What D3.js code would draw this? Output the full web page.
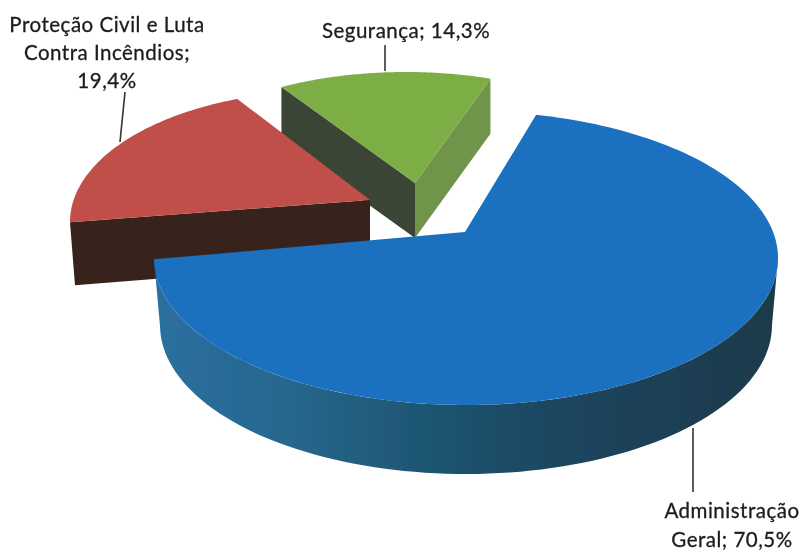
<!DOCTYPE html>
<html><head><meta charset="utf-8">
<style>html,body{margin:0;padding:0;background:#fff;overflow:hidden}svg{display:block}text{font-family:Lato,"Open Sans",sans-serif;fill:#1c1c1c;stroke:#1c1c1c;stroke-width:.3}</style>
<script src="https://cdn.jsdelivr.net/npm/d3@7"></script></head>
<body><svg id="c" width="802" height="551"></svg>
<script>
const categories = ["Administração Geral","Proteção Civil e Luta Contra Incêndios","Segurança"];
const values = [70.5,19.4,14.3];
const labelLines = [["Administração","Geral; 70,5%"],["Proteção Civil e Luta","Contra Incêndios;","19,4%"],["Segurança; 14,3%"]];

// projection of each exploded wedge (style / layout, not data)
const geom = [
 {apex:[465,232],c:[466,258],rx:312,ry:147,twist:3.75,stretch:1.053,depth:69,top:"#1a70c0"},
 {apex:[370,200],c:[325,222],rx:255,ry:131,twist:12.1,stretch:1.045,depth:62,top:"#c0504a",wall:"#38231f"},
 {apex:[415,183],c:[406,177],rx:241,ry:105,twist:3.7,stretch:1.045,depth:55,top:"#7cae45",wall:"#3b4435",wall2:"#6f9448"}
];
const labelPos = [
 {x:732,y:518,lh:29},{x:107,y:32,lh:28},{x:406,y:38,lh:0}
];
const leaders = [[[693,428],[693,492]],[[125,92],[120,142]],[[385,45],[385,71]]];

const svg = d3.select("#c");
const defs = svg.append("defs");
const f = defs.append("filter").attr("id","soft").attr("filterUnits","userSpaceOnUse").attr("x",0).attr("y",0).attr("width",802).attr("height",551);
f.append("feGaussianBlur").attr("stdDeviation",0.45);
const grad = defs.append("linearGradient").attr("id","blueWall").attr("gradientUnits","userSpaceOnUse")
  .attr("x1",155).attr("x2",775).attr("y1",0).attr("y2",0);
[[0,"#2a6fa0"],[0.2,"#27688f"],[0.45,"#1e5470"],[0.65,"#1d4560"],[1,"#1e3a4a"]]
  .forEach(s=>grad.append("stop").attr("offset",s[0]).attr("stop-color",s[1]));

const rad = Math.PI/180;
const pie = d3.pie().sort(null).value(d=>d).startAngle(15.7*rad).endAngle(15.7*rad+2*Math.PI);
const arcs = pie(values);
// angle on the wedge -> point on its projected rim
const rimOf = (g,a)=>{const m=(a.startAngle+a.endAngle)/2;
  return (th,dy=0,drx=0)=>{const p=m+(th-m)*g.stretch+g.twist*rad-Math.PI/2;
    return [g.c[0]+(g.rx-drx)*Math.cos(p), g.c[1]+dy+(g.ry+(dy?2:0))*Math.sin(p)];};};
const samples=(a,b,n=90)=>d3.range(n+1).map(i=>a+(b-a)*i/n);
const line=d3.line();
const g0 = svg.append("g").attr("filter","url(#soft)");

// Green wedge
{const g=geom[2],a=arcs[2],rim=rimOf(g,a),L=rim(a.startAngle),R=rim(a.endAngle),d=g.depth;
 g0.append("path").attr("d",line([L,g.apex,[g.apex[0],g.apex[1]+d],[L[0],L[1]+d]])+"Z").attr("fill",g.wall);
 g0.append("path").attr("d",line([g.apex,R,[R[0],R[1]+d],[g.apex[0],g.apex[1]+d]])+"Z").attr("fill",g.wall2);
 g0.append("path").attr("d",line([g.apex,...samples(a.startAngle,a.endAngle).map(t=>rim(t))])+"Z").attr("fill",g.top);
}
// Red wedge
{const g=geom[1],a=arcs[1],rim=rimOf(g,a),L=rim(a.startAngle),d=g.depth;
 g0.append("path").attr("d",line([L,g.apex,[g.apex[0],g.apex[1]+d],[L[0]+5,L[1]+d+1]])+"Z").attr("fill",g.wall);
 g0.append("path").attr("d",line([g.apex,...samples(a.startAngle,a.endAngle).map(t=>rim(t))])+"Z").attr("fill",g.top);
}
// Blue wedge
{const g=geom[0],a=arcs[0],rim=rimOf(g,a),d=g.depth;
 const m=(a.startAngle+a.endAngle)/2;
 const tStart=m+(Math.PI/2-g.twist*rad-m)/g.stretch;   // rightmost point of the rim
 const upper=samples(tStart,a.endAngle).map(t=>rim(t));
 const lower=samples(a.endAngle,tStart).map(t=>rim(t,d-2,6));
 g0.append("path").attr("d",line([...upper,...lower])+"Z").attr("fill","url(#blueWall)");
 g0.append("path").attr("d",line([g.apex,...samples(a.startAngle,a.endAngle,180).map(t=>rim(t))])+"Z").attr("fill",g.top);
}
// Leaders
leaders.forEach(l=>g0.append("path").attr("d",line(l)).attr("stroke","#333").attr("stroke-width",1.6).attr("fill","none"));
// Labels
labelLines.forEach((ls,i)=>{const p=labelPos[i];
  ls.forEach((t,j)=>g0.append("text").attr("x",p.x).attr("y",p.y+j*p.lh).attr("text-anchor","middle")
    .attr("font-size",20.5).attr("letter-spacing",0.5).text(t));
});
</script></body></html>
